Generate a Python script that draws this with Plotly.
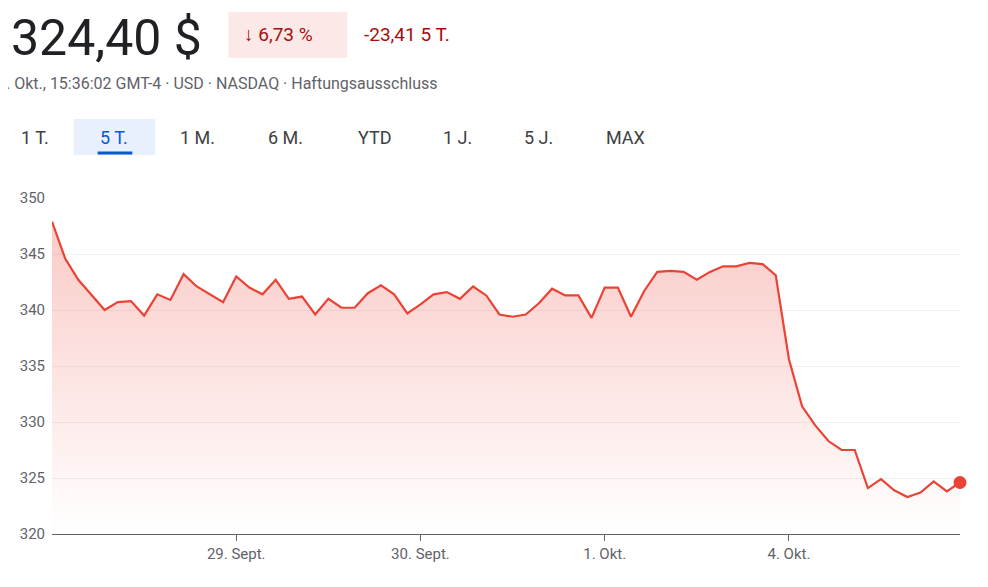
import plotly.graph_objects as go

prices = [347.9,344.6,342.7,341.3,340.0,340.7,340.8,339.5,341.4,340.9,343.2,342.1,341.4,340.7,
          343.0,342.0,341.4,342.7,341.0,341.2,339.6,341.0,340.2,340.2,341.5,342.2,341.4,339.7,
          340.5,341.4,341.6,341.0,342.1,341.3,339.6,339.4,339.6,340.6,341.9,341.3,341.3,339.3,
          342.0,342.0,339.4,341.7,343.4,343.5,343.4,342.7,343.4,343.9,343.9,344.2,344.1,343.1,
          335.6,331.4,329.7,328.3,327.5,327.5,324.1,324.9,323.9,323.3,323.7,324.7,323.8,324.6]
tick_pos = [14, 28, 42, 56]
tick_labels = ["29. Sept.", "30. Sept.", "1. Okt.", "4. Okt."]
y_ticks = [320, 325, 330, 335, 340, 345, 350]
tabs = ["1 T.", "5 T.", "1 M.", "6 M.", "YTD", "1 J.", "5 J.", "MAX"]
tab_x = [27, 107, 191, 280, 370, 453, 535, 623]

xs = list(range(len(prices)))
W, H = 988, 587
OFF = 8  # page offset
L, R, T, B = 44 - OFF, 28 + OFF, 198 - OFF, 53 + OFF
pw, ph = W - L - R, H - T - B
def px(x): return (x - OFF - L) / pw
def py(y): return (H - B - (y - OFF)) / ph

fig = go.Figure()
fig.add_trace(go.Scatter(x=xs, y=[320]*len(xs), mode="lines", line=dict(width=0), hoverinfo="skip", showlegend=False))
fig.add_trace(go.Scatter(x=xs, y=prices, mode="lines", fill="tonexty",
    line=dict(color="#ea4335", width=2.2),
    fillgradient=dict(type="vertical", colorscale=[[0, "rgba(234,67,53,0)"], [1, "rgba(234,67,53,0.28)"]]),
    showlegend=False))
fig.add_trace(go.Scatter(x=[xs[-1]], y=[prices[-1]], mode="markers", cliponaxis=False,
    marker=dict(color="#ea4335", size=13), showlegend=False))

fig.update_xaxes(range=[0, len(xs)-1], tickvals=tick_pos, ticktext=tick_labels, showgrid=False,
    ticks="outside", ticklen=6, tickcolor="#5f6368", showline=True, linecolor="#5f6368",
    tickfont=dict(family="Roboto", size=15, color="#5f6368"), zeroline=False)
fig.update_yaxes(range=[320, 350], tickvals=y_ticks, showgrid=True, gridcolor="#f1f1f1",
    tickfont=dict(family="Roboto", size=15, color="#5f6368"), ticklabelstandoff=6, zeroline=False)

ann = [
    dict(x=px(197), y=py(38), text="324,40 $", xanchor="right", font=dict(size=50, color="#202124")),
    dict(x=px(236), y=py(35), text="↓ 6,73 %", xanchor="left", font=dict(size=19, color="#a50e0e")),
    dict(x=px(357), y=py(35), text="-23,41 5 T.", xanchor="left", font=dict(size=19, color="#a50e0e")),
    dict(x=px(-4), y=py(83), text=". Okt., 15:36:02 GMT-4 · USD · NASDAQ · Haftungsausschluss",
         xanchor="left", font=dict(size=16, color="#5f6368")),
]
for t, x in zip(tabs, tab_x):
    sel = t == "5 T."
    ann.append(dict(x=px(x), y=py(137), text=t, xanchor="center",
                    font=dict(size=18, color="#0b57d0" if sel else "#3c4043")))
for a in ann:
    a.update(xref="paper", yref="paper", showarrow=False, yanchor="middle")
    a["font"]["family"] = "Roboto"
fig.update_layout(annotations=ann, shapes=[
    dict(type="rect", xref="paper", yref="paper", x0=px(222), x1=px(342), y0=py(12), y1=py(58),
         fillcolor="#fce8e6", line=dict(width=0), layer="below"),
    dict(type="rect", xref="paper", yref="paper", x0=px(66), x1=px(148), y0=py(119), y1=py(155),
         fillcolor="#e8f0fe", line=dict(width=0), layer="below"),
    dict(type="line", xref="paper", yref="paper", x0=px(90), x1=px(125), y0=py(153), y1=py(153),
         line=dict(color="#0b57d0", width=3)),
])
fig.update_layout(width=W, height=H, margin=dict(l=L, r=R, t=T, b=B),
    plot_bgcolor="white", paper_bgcolor="white")
fig.write_html("out.html")
